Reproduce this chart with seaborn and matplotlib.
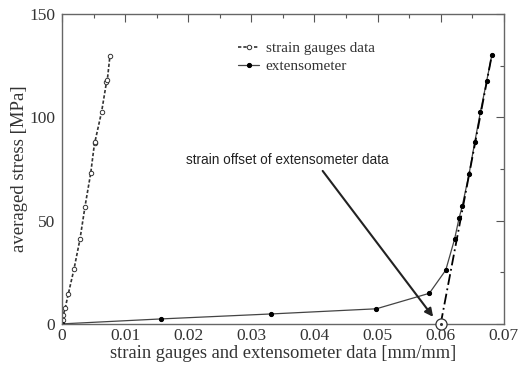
import matplotlib
matplotlib.use("Agg")
import matplotlib.pyplot as plt
import seaborn as sns
import pandas as pd
from matplotlib.ticker import MultipleLocator

sns.set_theme(style="white")
plt.rcParams['font.family'] = ['Liberation Serif', 'DejaVu Serif']

gauge_strain = [0.0, 0.0001, 0.0002, 0.0005, 0.0010, 0.0019, 0.00285, 0.00364, 0.00455,
                0.00515, 0.00523, 0.00628, 0.00705, 0.00718, 0.0076]
gauge_stress = [0.0, 2.0, 4.3, 7.6, 14.5, 26.5, 41.0, 56.7, 72.9,
                87.4, 88.2, 102.7, 117.0, 118.0, 129.8]

ext_strain = [0.0, 0.0157, 0.0331, 0.0498, 0.0582, 0.0608, 0.0622, 0.0629, 0.0634,
              0.0645, 0.0654, 0.0663, 0.0673, 0.0681]
ext_stress = [0.0, 2.4, 4.8, 7.3, 14.8, 26.0, 41.0, 51.0, 56.8,
              72.6, 88.0, 102.7, 117.7, 130.0]

offset_strain = [0.0600, 0.0681]
offset_stress = [0.0, 130.0]

x_ticks = [0.0, 0.01, 0.02, 0.03, 0.04, 0.05, 0.06, 0.07]
x_ticklabels = ["0", "0.01", "0.02", "0.03", "0.04", "0.05", "0.06", "0.07"]
y_ticks = [0, 50, 100, 150]
y_ticklabels = ["0", "50", "100", "150"]

annot_text = "strain offset of extensometer data"

df_g = pd.DataFrame({"strain": gauge_strain, "stress": gauge_stress})
df_e = pd.DataFrame({"strain": ext_strain, "stress": ext_stress})
df_o = pd.DataFrame({"strain": offset_strain, "stress": offset_stress})

fig = plt.figure(figsize=(5.21, 3.74), dpi=100)
ax = fig.add_axes([0.119, 0.134, 0.848, 0.829])

sns.lineplot(data=df_g, x="strain", y="stress", ax=ax, sort=False, color="#333333",
             linestyle=(0, (2.0, 1.2)), linewidth=1.2, marker="o", markersize=3.2,
             markerfacecolor="white", markeredgecolor="#333333", markeredgewidth=0.7,
             label="strain gauges data")
sns.lineplot(data=df_e, x="strain", y="stress", ax=ax, sort=False, color="#444444",
             linewidth=0.9, marker="o", markersize=3.0, markerfacecolor="black",
             markeredgecolor="black", label="extensometer")
sns.lineplot(data=df_o, x="strain", y="stress", ax=ax, sort=False, color="black",
             linestyle=(0, (6, 2, 1, 2)), linewidth=1.3, legend=False)
ax.plot([offset_strain[0]], [offset_stress[0]], marker="o", markersize=8,
        markerfacecolor="white", markeredgecolor="#333333", markeredgewidth=0.9,
        linestyle="none", clip_on=False, zorder=5)
ax.plot([offset_strain[0]], [offset_stress[0]], marker="o", markersize=1.2,
        color="#333333", linestyle="none", clip_on=False, zorder=6)

ax.text(0.0357, 79.3, annot_text, ha="center", va="center", fontsize=9.8,
        family=['Liberation Sans', 'DejaVu Sans'], color="#222222")
ax.annotate("", xy=(0.0588, 3.4), xytext=(0.0413, 74.0),
            arrowprops=dict(arrowstyle="-|>", color="#222222", lw=1.5,
                            mutation_scale=12, shrinkA=0, shrinkB=0))

ax.set_xlim(0, 0.07)
ax.set_ylim(0, 150)
ax.set_xticks(x_ticks)
ax.set_xticklabels(x_ticklabels)
ax.set_yticks(y_ticks)
ax.set_yticklabels(y_ticklabels)
ax.xaxis.set_minor_locator(MultipleLocator(0.005))
ax.yaxis.set_minor_locator(MultipleLocator(25))
ax.tick_params(which="both", direction="in", top=True, right=True, color="#555555",
               labelsize=12.5, labelcolor="#333333")
ax.tick_params(axis="x", which="major", pad=3)
ax.tick_params(axis="y", which="major", pad=5)
ax.tick_params(which="major", length=6, width=0.8)
ax.tick_params(which="minor", length=3, width=0.8)
for s in ax.spines.values():
    s.set_color("#666666")
    s.set_linewidth(1.0)

ax.set_xlabel("strain gauges and extensometer data [mm/mm]", fontsize=13.3, color="#333333", labelpad=1)
ax.set_ylabel("averaged stress [MPa]", fontsize=13.5, color="#333333", labelpad=1)

leg = ax.legend(loc="upper left", bbox_to_anchor=(0.385, 0.93), frameon=False, fontsize=11,
                handlelength=1.35, handletextpad=0.45, labelspacing=0.25, borderaxespad=0)
for t in leg.get_texts():
    t.set_color("#333333")

fig.savefig("out.png", dpi=100)
